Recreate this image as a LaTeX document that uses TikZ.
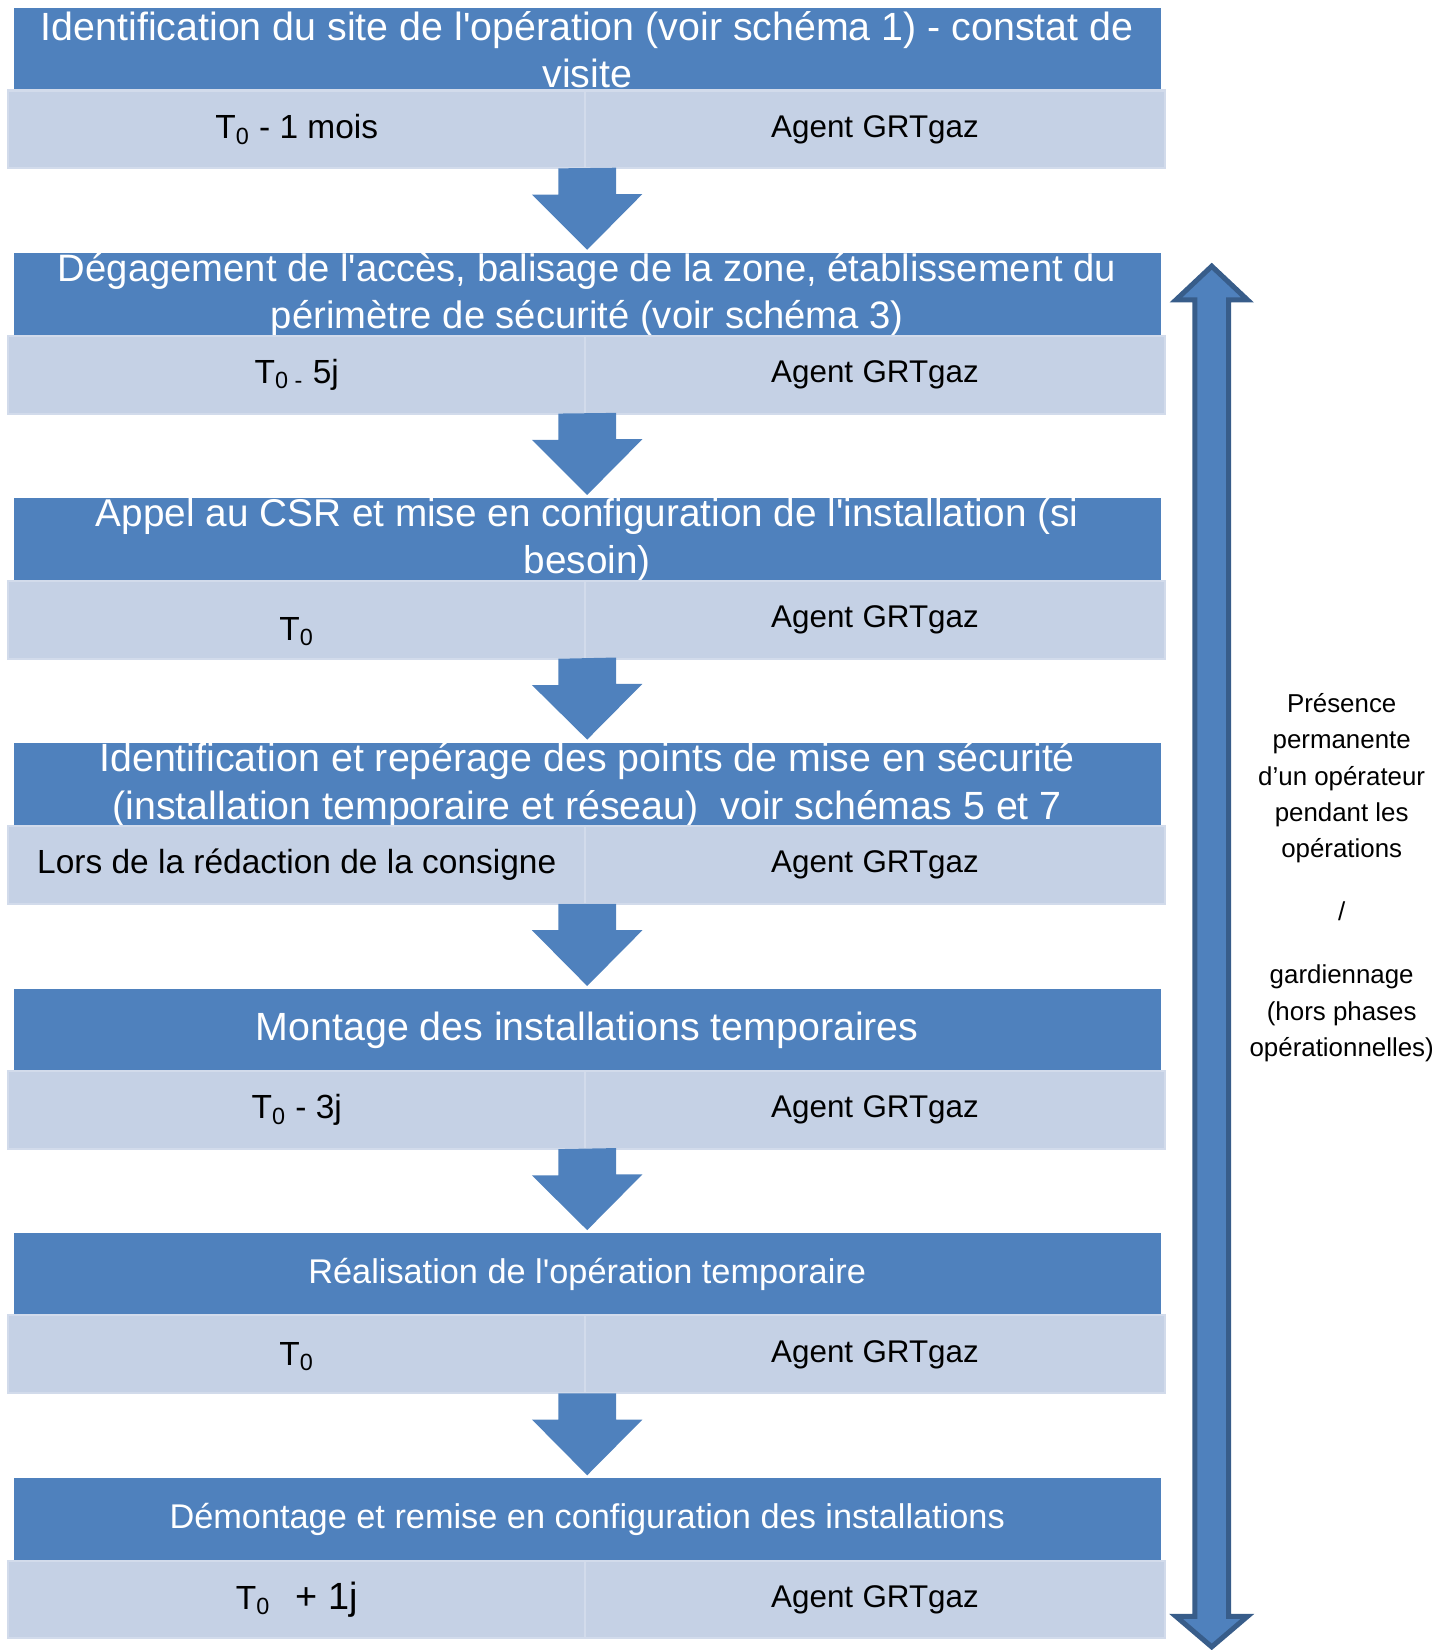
\documentclass[tikz,border=0pt]{standalone}
\usepackage{fontspec}
\setmainfont{Liberation Sans}[Ligatures=TeXOff]
\usetikzlibrary{calc}

\definecolor{hdrblue}{RGB}{79,129,189}
\definecolor{cellblue}{RGB}{197,209,229}
\definecolor{celledge}{RGB}{210,219,235}
\definecolor{spanedge}{RGB}{56,93,138}

\newcommand{\hdrsize}{\fontsize{18.7}{22.5}\selectfont}
\newcommand{\smallhdr}{\fontsize{16.3}{20}\selectfont}
\newcommand{\cellsize}{\fontsize{15.9}{18}\selectfont}
\newcommand{\agent}{{\fontsize{14.9}{18}\selectfont Agent\hspace{0.3em}GRTgaz}}
\newcommand{\steparrow}[3]{%
  \fill[hdrblue] ($(#1 |- #2.south)+(-27.5,0)$) -- ++(0,25) -- ++(-25,0)
    -- ($(#3.north)+(0,-3)$) -- ++(52.5,-53) -- ++(-25,0) -- ++(0,-25) -- cycle;}

\tikzset{
  header/.style={fill=hdrblue, text=white, minimum width=545pt, minimum height=39pt,
    inner sep=0pt, outer sep=0pt, align=center, font=\hdrsize},
  cellleft/.style={fill=cellblue, draw=celledge, line width=1pt, minimum width=274pt,
    minimum height=37pt, inner sep=0pt, outer sep=0pt, font=\cellsize},
  cellright/.style={cellleft, minimum width=275.5pt},
  celltext/.style={inner sep=0pt, font=\cellsize}
}

\begin{document}
\begin{tikzpicture}[x=0.5pt, y=-0.5pt]
      \useasboundingbox (0,0) rectangle (1364,1568);

      \node[header] (h1) at (558, 47) {Identification du site de l'opération (voir schéma 1) - constat de\\visite};
      \node[cellleft] (r1) at (282, 123) {};
      \node[cellright] (a1) at (831.5, 123) {};
      \node[celltext] (t1) at (r1.center) {T\textsubscript{0} - 1 mois};
      \node[celltext] (g1) at (a1.center) {\agent};

      \node[header, font=\fontsize{18.15}{22.5}\selectfont] (h2) at (558, 280) {Dégagement de l'accès, balisage de la zone, établissement du\\périmètre de sécurité (voir schéma 3)};
      \node[cellleft] (r2) at (282, 356) {};
      \node[cellright] (a2) at (831.5, 356) {};
      \node[celltext] (t2) at (r2.center) {T\textsubscript{0 -} 5j};
      \node[celltext] (g2) at (a2.center) {\agent};

      \node[header, font=\fontsize{18.4}{22.5}\selectfont] (h3) at (558, 513) {Appel au CSR et mise en configuration de l'installation (si\\besoin)};
      \node[cellleft] (r3) at (282, 589) {};
      \node[cellright] (a3) at (831.5, 589) {};
      \node[celltext, yshift=-5.5pt] (t3) at (r3.center) {T\textsubscript{0}};
      \node[celltext] (g3) at (a3.center) {\agent};

      \node[header] (h4) at (558, 746) {Identification et repérage des points de mise en sécurité\\(installation temporaire et réseau)\ \ voir schémas 5 et 7};
      \node[cellleft] (r4) at (282, 822) {};
      \node[cellright] (a4) at (831.5, 822) {};
      \node[celltext] (t4) at (r4.center) {Lors de la rédaction de la consigne};
      \node[celltext] (g4) at (a4.center) {\agent};

      \node[header] (h5) at (558, 979) {Montage des installations temporaires};
      \node[cellleft] (r5) at (282, 1055) {};
      \node[cellright] (a5) at (831.5, 1055) {};
      \node[celltext] (t5) at (r5.center) {T\textsubscript{0} - 3j};
      \node[celltext] (g5) at (a5.center) {\agent};

      \node[header, font=\smallhdr] (h6) at (558, 1211) {Réalisation de l'opération temporaire};
      \node[cellleft] (r6) at (282, 1287) {};
      \node[cellright] (a6) at (831.5, 1287) {};
      \node[celltext, yshift=-1pt] (t6) at (r6.center) {T\textsubscript{0}};
      \node[celltext] (g6) at (a6.center) {\agent};

      \node[header, font=\smallhdr] (h7) at (558, 1444) {Démontage et remise en configuration des installations};
      \node[cellleft] (r7) at (282, 1520) {};
      \node[cellright] (a7) at (831.5, 1520) {};
      \node[celltext] (t7) at (r7.center) {T\textsubscript{0}\hspace{0.75em}{\fontsize{18}{20}\selectfont + 1j}};
      \node[celltext] (g7) at (a7.center) {\agent};

      \steparrow{h1}{r1}{h2}
      \steparrow{h2}{r2}{h3}
      \steparrow{h3}{r3}{h4}
      \steparrow{h4}{r4}{h5}
      \steparrow{h5}{r5}{h6}
      \steparrow{h6}{r6}{h7}

      \draw[line width=2.4pt, draw=spanedge, fill=hdrblue]
        (1151.5, 253) -- (1185.5, 285) -- (1167.5, 285) -- (1167.5, 1536) -- (1185.5, 1536)
        -- (1151.5, 1565) -- (1117.5, 1536) -- (1135.5, 1536) -- (1135.5, 285) -- (1117.5, 285) -- cycle;

      \node[align=center, inner sep=0pt, font=\fontsize{12.3}{17.25}\selectfont] (span) at (1275, 834)
        {Présence\\permanente\\d’un opérateur\\pendant les\\opérations\\[12.75pt]/\\[12.75pt]gardiennage\\(hors phases\\opérationnelles)};
    \end{tikzpicture}
\end{document}
